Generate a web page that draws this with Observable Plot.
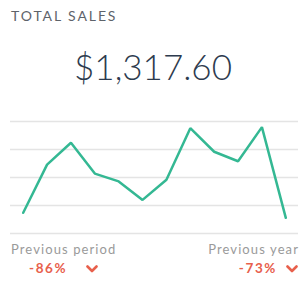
<!DOCTYPE html>
<html>
<head>
<meta charset="utf-8">
<script src="https://cdn.jsdelivr.net/npm/d3@7"></script>
<script src="https://cdn.jsdelivr.net/npm/@observablehq/plot@0.6"></script>
<style>
  html, body { margin: 0; padding: 0; background: #fff; }
  #card { position: relative; width: 306px; height: 283px; overflow: hidden; font-family: Lato, "Open Sans", sans-serif; }
  #title { position: absolute; left: 11px; top: 7px; font-size: 14px; letter-spacing: 1.9px; color: #5e636a; }
  #value { position: absolute; left: 0; width: 306px; top: 45px; text-align: center; font-size: 35px; font-weight: 300; color: #2d3b4e; }
  #chart { position: absolute; left: 0; top: 110px; }
  .lbl { position: absolute; top: 241px; font-size: 13px; letter-spacing: 1.1px; color: #9a9a9a; }
  .pct { position: absolute; top: 260px; font-size: 13.5px; font-weight: 700; letter-spacing: 1.6px; color: #e8604c; }
  .chev { position: absolute; top: 265px; }
</style>
</head>
<body>
<div id="card">
  <div id="title"></div>
  <div id="value"></div>
  <div id="chart"></div>
  <div class="lbl" id="lblA" style="left:11px"></div>
  <div class="lbl" id="lblB" style="right:7px"></div>
  <div class="pct" id="pctA" style="left:29px"></div>
  <svg class="chev" style="left:86px" width="12" height="8"><polyline points="1.5,1.5 6,6 10.5,1.5" fill="none" stroke="#e8604c" stroke-width="2.6" stroke-linecap="round" stroke-linejoin="round"/></svg>
  <div class="pct" id="pctB" style="right:29px"></div>
  <svg class="chev" style="left:286px" width="12" height="8"><polyline points="1.5,1.5 6,6 10.5,1.5" fill="none" stroke="#e8604c" stroke-width="2.6" stroke-linecap="round" stroke-linejoin="round"/></svg>
</div>
<script>
const titleText = "TOTAL SALES";
const totalText = "$1,317.60";
const periods = [1, 2, 3, 4, 5, 6, 7, 8, 9, 10, 11, 12];
const sales = [37, 123, 162, 107, 93, 60, 96, 188, 146, 129, 190, 28];
const gridTicks = [0, 50, 100, 150, 200];
const compareLabels = ["Previous period", "Previous year"];
const compareValues = ["-86%", "-73%"];

document.getElementById("title").textContent = titleText;
document.getElementById("value").textContent = totalText;
document.getElementById("lblA").textContent = compareLabels[0];
document.getElementById("lblB").textContent = compareLabels[1];
document.getElementById("pctA").textContent = compareValues[0];
document.getElementById("pctB").textContent = compareValues[1];

const data = periods.map((p, i) => ({period: p, sales: sales[i]}));

const chart = Plot.plot({
  width: 306,
  height: 130,
  marginLeft: 10,
  marginRight: 8,
  marginTop: 11,
  marginBottom: 7,
  x: {domain: [1, 12], insetLeft: 12.7, insetRight: 12.7, axis: null},
  y: {domain: [0, 200], axis: null},
  marks: [
    Plot.ruleY(gridTicks, {stroke: "#e4e4e4", strokeWidth: 1.5}),
    Plot.line(data, {x: "period", y: "sales", stroke: "#34b893", strokeWidth: 2.5, strokeLinejoin: "miter"})
  ]
});
document.getElementById("chart").appendChild(chart);
</script>
</body>
</html>
